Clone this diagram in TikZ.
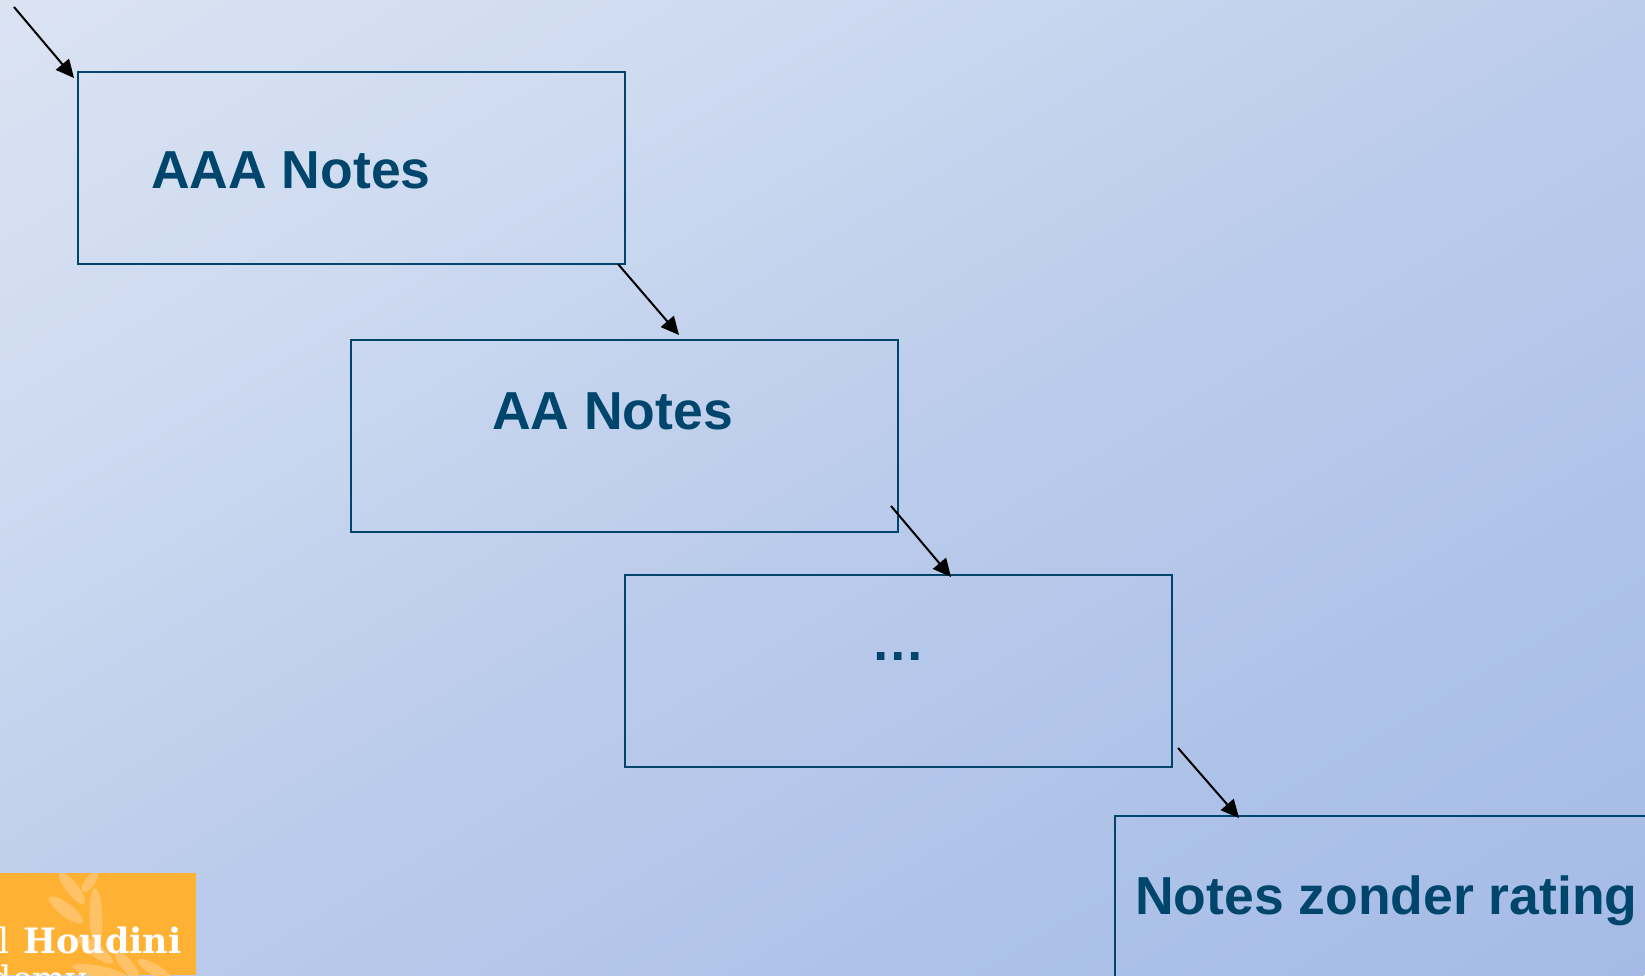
\documentclass[tikz,border=0pt]{standalone}
\usepackage{fontspec}
\setmainfont{Liberation Sans}
\newfontfamily\slabfont{DejaVu Serif}
\usetikzlibrary{arrows.meta}
\definecolor{boxline}{HTML}{00466C}
\definecolor{logoorange}{HTML}{FFB133}
\definecolor{leafcol}{HTML}{FFC266}
\definecolor{bgA}{HTML}{DBE3F3}
\definecolor{bgAB}{HTML}{CDDAF0}
\definecolor{bgM}{HTML}{BCCCEB}
\definecolor{bgMB}{HTML}{AFC3E9}
\definecolor{bgB}{HTML}{A5BBE6}
\pgfdeclareverticalshading{bgshade}{100bp}{color(0bp)=(bgB); color(25bp)=(bgB); color(37.5bp)=(bgMB); color(50bp)=(bgM); color(62.5bp)=(bgAB); color(75bp)=(bgA); color(100bp)=(bgA)}
\tikzset{
  x=1pt,y=-1pt,
  notebox/.style={draw=boxline,line width=2.2pt,minimum width=547pt,minimum height=192pt,inner sep=0pt,anchor=north west},
  notetext/.style={font=\fontsize{53.5}{60}\selectfont\bfseries,text=boxline,inner sep=0pt,anchor=base west},
  flow/.style={draw=black,line width=2pt,-{Triangle[length=18pt,width=17pt]}},
  leaf/.style={fill=leafcol,draw=none},
}
\begin{document}
\begin{tikzpicture}
\useasboundingbox (0,0) rectangle (1645,975);
\clip (0,0) rectangle (1645,975);
\begin{scope}[transform canvas={rotate around={30.66:(822.5,487.5)}}]
\shade[shading=bgshade] (-377.5,-351.3) rectangle (2022.5,1326.3);
\end{scope}
% boxes
\node[notebox] (b1) at (77,71) {};
\node[notebox] (b2) at (350,339) {};
\node[notebox] (b3) at (623.5,574) {};
\node[notebox] (b4) at (1114,815) {};
% labels
\node[notetext] (t1) at (151,188) {AAA Notes};
\node[notetext] (t2) at (492,429) {AA Notes};
\node[notetext] (t3) at (871,660) {…};
\node[notetext] (t4) at (1135,914) {Notes zonder rating};
% connectors
\coordinate (s1) at (14,7);    \coordinate (e1) at (74,78);
\coordinate (s2) at (618,264); \coordinate (e2) at (679,335);
\coordinate (s3) at (891,506); \coordinate (e3) at (951,577);
\coordinate (s4) at (1178,748);\coordinate (e4) at (1239,818);
\draw[flow] (s1) -- (e1);
\draw[flow] (s2) -- (e2);
\draw[flow] (s3) -- (e3);
\draw[flow] (s4) -- (e4);
% logo
\begin{scope}
\clip (0,873) rectangle (196,975);
\fill[logoorange] (0,873) rectangle (196,975);
\fill[leaf,rotate around={-52:(72,888)}] (72,888) ellipse (20 and 6);
\fill[leaf,rotate around={54:(90,882)}] (90,882) ellipse (12 and 5);
\fill[leaf,rotate around={-37:(66,910)}] (66,910) ellipse (21 and 6.5);
\fill[leaf,rotate around={92:(96,918)}] (96,918) ellipse (30 and 6.5);
\fill[leaf,rotate around={-36:(95,950)}] (95,950) ellipse (22 and 6);
\fill[leaf,rotate around={-50:(127,965)}] (127,965) ellipse (17 and 6);
\fill[leaf,rotate around={-12:(100,972)}] (100,972) ellipse (28 and 6);
\fill[leaf,rotate around={-30:(155,970)}] (155,970) ellipse (20 and 5.5);
\node[font=\slabfont\fontsize{35}{40}\selectfont\bfseries,text=white,inner sep=0pt,anchor=base west] (h1) at (23,953) {Houdini};
\node[font=\slabfont\fontsize{35}{40}\selectfont,text=white,inner sep=0pt,anchor=base east] (h0) at (10,953) {l};
\node[font=\slabfont\fontsize{35}{40}\selectfont,text=white,inner sep=0pt,anchor=base east] (h2) at (86,991) {demy};
\end{scope}
\end{tikzpicture}
\end{document}
